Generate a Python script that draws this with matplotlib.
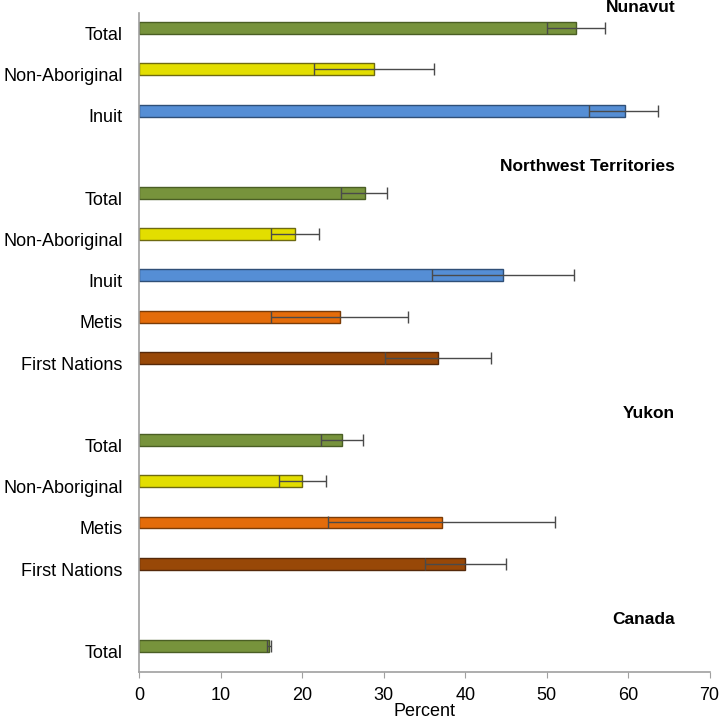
import matplotlib
matplotlib.use("Agg")
import matplotlib.pyplot as plt
import numpy as np

plt.rcParams['font.family'] = ['Liberation Sans', 'DejaVu Sans']

# Category rows, top to bottom ("" = spacer row holding a group header)
labels = ["Total", "Non-Aboriginal", "Inuit", "",
          "Total", "Non-Aboriginal", "Inuit", "Metis", "First Nations", "",
          "Total", "Non-Aboriginal", "Metis", "First Nations", "",
          "Total"]
groups = ["Total", "Non-Aboriginal", "Inuit", None,
          "Total", "Non-Aboriginal", "Inuit", "Metis", "First Nations", None,
          "Total", "Non-Aboriginal", "Metis", "First Nations", None,
          "Total"]
values = [53.6, 28.8, 59.6, None,
          27.7, 19.1, 44.7, 24.6, 36.7, None,
          24.9, 20.0, 37.2, 40.0, None,
          15.9]
lower = [50.0, 21.4, 55.2, None,
         24.7, 16.2, 35.9, 16.2, 30.1, None,
         22.3, 17.1, 23.2, 35.1, None,
         15.6]
upper = [57.2, 36.2, 63.7, None,
         30.4, 22.1, 53.4, 33.0, 43.2, None,
         27.5, 22.9, 51.0, 45.0, None,
         16.2]
headers = ["Nunavut", "Northwest Territories", "Yukon", "Canada"]
header_rows = [0, 4, 10, 15]

fill = {"Total": "#77933C", "Non-Aboriginal": "#E3DE00", "Inuit": "#558ED5",
        "Metis": "#E46C0A", "First Nations": "#984807"}
edge = {"Total": "#4A5E24", "Non-Aboriginal": "#6E6A10", "Inuit": "#2F4F77",
        "Metis": "#7A3C08", "First Nations": "#55290A"}

fig = plt.figure(figsize=(7.22, 7.25), dpi=100)
ax = fig.add_axes([0.1932, 0.0731, 0.7895, 0.9090])

bar_shift = -0.13
bar_h = 0.29
for i, (g, v, lo, hi) in enumerate(zip(groups, values, lower, upper)):
    if v is None:
        continue
    y = i + bar_shift
    ax.barh(y, v, height=bar_h, color=fill[g], edgecolor=edge[g],
            linewidth=1.0, zorder=2)
    ax.errorbar(v, y, xerr=[[v - lo], [hi - v]], fmt='none',
                ecolor='#4A4A4A', elinewidth=1.0, capsize=4.2,
                capthick=1.0, zorder=3)

for h, r in zip(headers, header_rows):
    off = -0.63 if r == 0 else -0.78
    ax.text(65.8, r + off, h, ha='right', va='center', fontsize=12.5,
            fontweight='bold', color='black', clip_on=False)

ax.set_ylim(15.5, -0.5)
ax.set_xlim(0, 70)
ax.set_yticks(range(len(labels)))
ax.set_yticklabels(labels, fontsize=13)
ax.tick_params(axis='y', length=0, pad=12)
ax.set_xticks(np.arange(0, 71, 10))
ax.tick_params(axis='x', labelsize=13, length=4, color='#A0A0A0',
               direction='out', pad=7)
ax.set_xlabel("Percent", fontsize=13, labelpad=-1)

for s in ['top', 'right']:
    ax.spines[s].set_visible(False)
for s in ['left', 'bottom']:
    ax.spines[s].set_color('#A0A0A0')
    ax.spines[s].set_linewidth(1.2)

fig.savefig("out.png", dpi=100)
